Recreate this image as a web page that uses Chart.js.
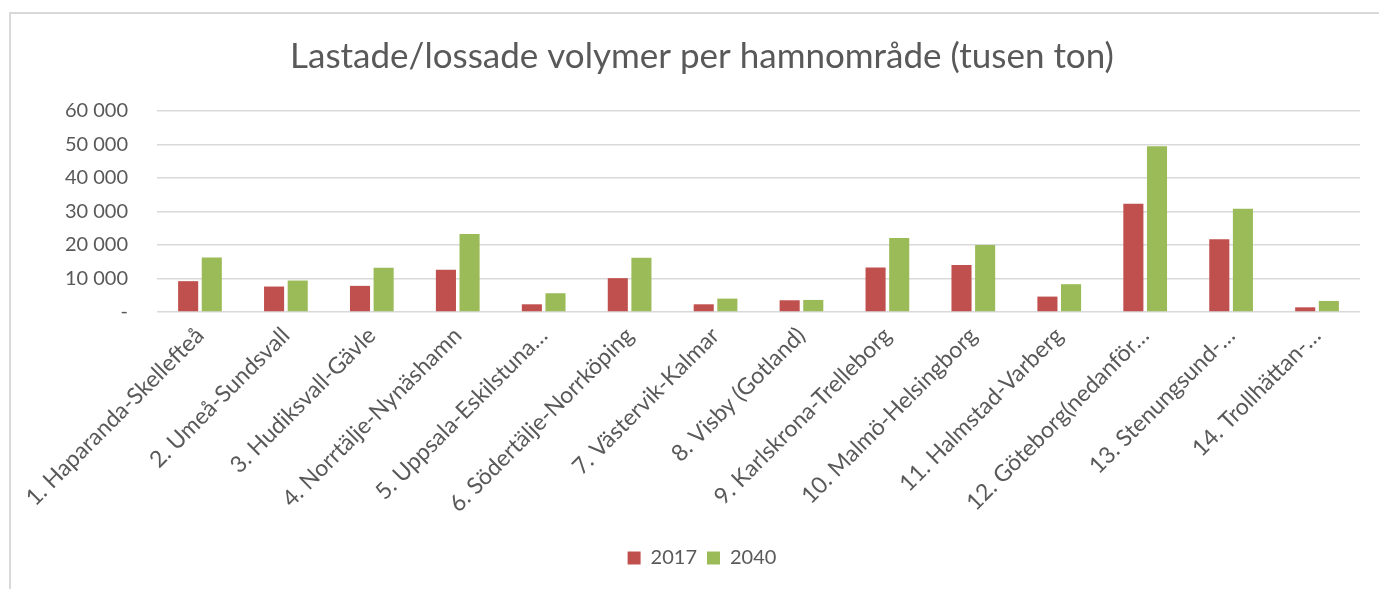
<!DOCTYPE html>
<html>
<head>
<meta charset="utf-8">
<script src="https://cdn.jsdelivr.net/npm/chart.js@4"></script>
<style>
  html, body { margin: 0; padding: 0; background: #fff; }
  #frame { position: absolute; left: 9px; top: 12px; width: 1400px; height: 600px;
           border-left: 2px solid #d9d9d9; border-top: 2px solid #d9d9d9; }
  #wrap { position: absolute; left: 0; top: 0; width: 1379px; height: 589px; }
</style>
</head>
<body>
<div id="frame"></div>
<div id="wrap"><canvas id="c" width="1379" height="589"></canvas></div>
<script>
const categories = [
  "1. Haparanda-Skellefteå",
  "2. Umeå-Sundsvall",
  "3. Hudiksvall-Gävle",
  "4. Norrtälje-Nynäshamn",
  "5. Uppsala-Eskilstuna…",
  "6. Södertälje-Norrköping",
  "7. Västervik-Kalmar",
  "8. Visby (Gotland)",
  "9. Karlskrona-Trelleborg",
  "10. Malmö-Helsingborg",
  "11. Halmstad-Varberg",
  "12. Göteborg(nedanför…",
  "13. Stenungsund-…",
  "14. Trollhättan-…"
];
const values2017 = [9200, 7600, 7800, 12600, 2300, 10100, 2300, 3500, 13300, 14000, 4600, 32300, 21700, 1400];
const values2040 = [16300, 9400, 13200, 23300, 5600, 16200, 4000, 3600, 22100, 20000, 8300, 49500, 30800, 3300];
const seriesNames = ["2017", "2040"];
const titleText = "Lastade/lossade volymer per hamnområde (tusen ton)";
const yMax = 60000, yStep = 10000;

const FONT = "Lato, 'Open Sans', sans-serif";
const TXT = "#595959";

new Chart(document.getElementById('c'), {
  type: 'bar',
  data: {
    labels: categories,
    datasets: [
      { label: seriesNames[0], data: values2017, backgroundColor: '#C0504D' },
      { label: seriesNames[1], data: values2040, backgroundColor: '#9BBB59' }
    ]
  },
  options: {
    responsive: false,
    animation: false,
    devicePixelRatio: 1,
    categoryPercentage: 0.55,
    barPercentage: 0.85,
    layout: { padding: { left: 44, right: 19, top: 0, bottom: 11 } },
    plugins: {
      title: {
        display: true, text: titleText, color: TXT,
        font: { family: FONT, size: 35, weight: 'normal' },
        padding: { top: 36, bottom: 33 }
      },
      legend: {
        position: 'bottom',
        labels: {
          color: TXT, boxWidth: 13, boxHeight: 13, padding: 10,
          font: { family: FONT, size: 20 }
        }
      },
      tooltip: { enabled: false }
    },
    scales: {
      x: {
        grid: { display: false },
        border: { display: false },
        ticks: {
          color: TXT, autoSkip: false, minRotation: 45, maxRotation: 45, padding: 2,
          font: { family: FONT, size: 23 }
        },
        afterFit: (s) => { s.height = 226; }
      },
      y: {
        min: 0, max: yMax,
        grid: { color: '#d9d9d9', lineWidth: 1.5, drawTicks: false },
        border: { display: false },
        ticks: {
          stepSize: yStep, color: TXT, padding: 29,
          font: { family: FONT, size: 20 },
          callback: (v) => v === 0 ? '-' : String(v).replace(/\B(?=(\d{3})+(?!\d))/g, ' ')
        },
        afterFit: (s) => { s.width = 113; }
      }
    }
  }
});
</script>
</body>
</html>
